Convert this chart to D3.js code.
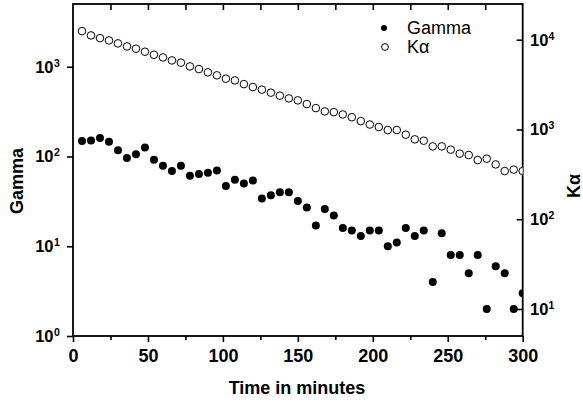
<!DOCTYPE html>
<html>
<head>
<script src="https://d3js.org/d3.v7.min.js"></script>
<style>
    body { margin: 0; background: #fff; }
    text { font-family: "Liberation Sans", Arial, sans-serif; fill: #000; }
    .axis .domain { display: none; }
    .axis line { stroke: #000; stroke-width: 1.6px; }
    .tick-label { font-size: 18px; font-weight: bold; }
    .title { font-size: 18px; font-weight: bold; }
</style>
</head>
<body>
<svg id="chart" width="583" height="403"></svg>
<script>
// time of each measurement (minutes)
const times = [6, 12, 18, 24, 30, 36, 42, 48, 54, 60,
    66, 72, 78, 84, 90, 96, 102, 108, 114, 120,
    126, 132, 138, 144, 150, 156, 162, 168, 174, 180,
    186, 192, 198, 204, 210, 216, 222, 228, 234, 240,
    246, 252, 258, 264, 270, 276, 282, 288, 294, 300];

// left axis series
const gamma = [149, 151, 161, 146, 117, 96, 106, 126, 92, 79,
    69, 79, 61, 64, 66, 70, 47, 55, 50, 54,
    34, 37, 40, 40, 32, 27, 17, 26, 22, 16,
    15, 13, 15, 15, 10, 11, 16, 13, 15, 4,
    14, 8, 8, 5, 8, 2, 6, 5, 2, 3];

// right axis series
const kalpha = [12470, 11160, 10420, 9820, 9100, 8420, 7940, 7350, 6800, 6350,
    5880, 5550, 5040, 4710, 4330, 4010, 3680, 3520, 3200, 2970,
    2780, 2570, 2380, 2220, 2110, 1920, 1730, 1590, 1560, 1470,
    1370, 1240, 1135, 1065, 985, 985, 875, 776, 750, 648,
    648, 596, 538, 519, 456, 473, 408, 344, 357, 344];

const xTicks = [0, 50, 100, 150, 200, 250, 300];
const xMinor = [25, 75, 125, 175, 225, 275];
const xTop = [25, 50, 75, 100, 125, 150, 175, 200, 225, 250, 275];
const leftTicks = [1, 10, 100, 1000];
const rightTicks = [10, 100, 1000, 10000];

const svg = d3.select("#chart");
const pLeft = 73, pRight = 522.7, pTop = 4, pBottom = 336;

const x = d3.scaleLinear().domain([0, 300]).range([pLeft, pRight]);
const yL = d3.scaleLog().domain([1, 5000]).range([pBottom, pTop]);
const yR = d3.scaleLog().domain([5, 25000]).range([pBottom, pTop]);

// axes
svg.append("g").attr("class", "axis")
    .attr("transform", "translate(0," + pBottom + ")")
    .call(d3.axisBottom(x).tickValues(xTicks).tickSize(6).tickPadding(7))
    .selectAll("text").attr("class", "tick-label");

svg.append("g").attr("class", "axis")
    .attr("transform", "translate(0," + pBottom + ")")
    .call(d3.axisBottom(x).tickValues(xMinor).tickSize(4).tickFormat(""));

svg.append("g").attr("class", "axis")
    .attr("transform", "translate(0," + pTop + ")")
    .call(d3.axisTop(x).tickValues(xTop).tickSize(-6).tickFormat(""));

svg.append("g").attr("class", "axis")
    .attr("transform", "translate(" + pLeft + ",0)")
    .call(d3.axisLeft(yL).tickValues(leftTicks).tickSize(6).tickFormat(""));

svg.append("g").attr("class", "axis")
    .attr("transform", "translate(" + pRight + ",0)")
    .call(d3.axisRight(yR).tickValues(rightTicks).tickSize(-6).tickFormat(""));

// power-of-ten labels
function powLabel(g, xPos, yPos, exp, anchorEnd) {
    const t = g.append("text")
        .attr("y", yPos + 6)
        .style("font-size", "16.5px").style("font-weight", "bold");
    if (anchorEnd) {
        t.attr("x", xPos - 7).attr("text-anchor", "end").text("10");
        g.append("text").attr("x", xPos - 6.5).attr("y", yPos).style("font-size", "10.5px")
            .style("font-weight", "bold").text(exp);
    } else {
        t.attr("x", xPos).text("10");
        g.append("text").attr("x", xPos + 18.5).attr("y", yPos).style("font-size", "10.5px")
            .style("font-weight", "bold").text(exp);
    }
}
const lbl = svg.append("g");
leftTicks.forEach(v => powLabel(lbl, 60.5, yL(v), Math.round(Math.log10(v)), true));
rightTicks.forEach(v => powLabel(lbl, 530, yR(v), Math.round(Math.log10(v)), false));

// frame
svg.append("rect")
    .attr("x", pLeft).attr("y", pTop)
    .attr("width", pRight - pLeft).attr("height", pBottom - pTop)
    .attr("fill", "none").attr("stroke", "#000").attr("stroke-width", 1.8);

// points
svg.append("clipPath").attr("id", "plot-clip")
    .append("rect").attr("x", pLeft).attr("y", pTop)
    .attr("width", pRight - pLeft).attr("height", pBottom - pTop);

const pts = svg.append("g").attr("clip-path", "url(#plot-clip)");

pts.selectAll("circle.ka").data(times)
    .enter().append("circle")
    .attr("class", "ka")
    .attr("cx", d => x(d))
    .attr("cy", (d, i) => yR(kalpha[i]))
    .attr("r", 3.8)
    .attr("fill", "#fff")
    .attr("stroke", "#000")
    .attr("stroke-width", 1);

pts.selectAll("circle.gm").data(times)
    .enter().append("circle")
    .attr("class", "gm")
    .attr("cx", d => x(d))
    .attr("cy", (d, i) => yL(gamma[i]))
    .attr("r", 4)
    .attr("fill", "#000");

// legend
svg.append("circle").attr("cx", 384).attr("cy", 28).attr("r", 3).attr("fill", "#000");
svg.append("text").attr("x", 407).attr("y", 34).style("font-size", "18px").text("Gamma");
svg.append("circle").attr("cx", 385).attr("cy", 47).attr("r", 3.4)
    .attr("fill", "#fff").attr("stroke", "#000").attr("stroke-width", 1);
svg.append("text").attr("x", 407).attr("y", 53).style("font-size", "18px").text("Kα");

// axis titles
svg.append("text").attr("class", "title")
    .attr("x", 297).attr("y", 394).attr("text-anchor", "middle")
    .text("Time in minutes");

svg.append("text").attr("class", "title")
    .attr("transform", "translate(23,181) rotate(-90)")
    .attr("text-anchor", "middle")
    .text("Gamma");

svg.append("text").attr("class", "title")
    .attr("transform", "translate(580,186) rotate(-90)")
    .attr("text-anchor", "middle")
    .text("Kα");
</script>
</body>
</html>
